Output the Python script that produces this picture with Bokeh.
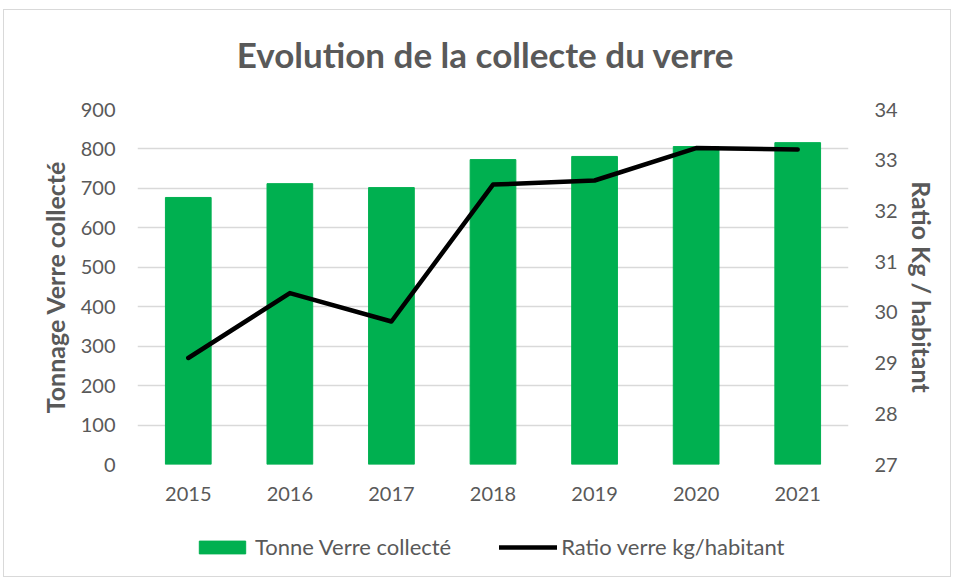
from bokeh.plotting import figure
from bokeh.layouts import column
from bokeh.models import Range1d, LinearAxis, FactorRange, Legend, LegendItem, ColumnDataSource, Label
from bokeh.embed import file_html
from bokeh.resources import INLINE

years = ["2015", "2016", "2017", "2018", "2019", "2020", "2021"]
tonnage = [677, 712, 702, 773, 781, 806, 816]
ratio = [29.1, 30.38, 29.82, 32.52, 32.6, 33.24, 33.21]
left_ticks = [0, 100, 200, 300, 400, 500, 600, 700, 800, 900]
right_ticks = [27, 28, 29, 30, 31, 32, 33, 34]
title_text = "Evolution de la collecte du verre"
series_names = ["Tonne Verre collecté", "Ratio verre kg/habitant"]

FONT = "Lato"
GRAY = "#595959"
GREEN = "#00b050"
W = 946
FW = 711

# ---- title strip (frame aligned with main chart frame) ----
p0 = figure(width=W, height=87, x_range=Range1d(0, FW), y_range=Range1d(0, 87),
            output_backend="svg", toolbar_location=None, min_border=0,
            x_axis_location=None, y_axis_location=None)
p0.grid.visible = False
p0.outline_line_color = None
p0.add_layout(Label(x=348, y=44, text=title_text, text_align="center", text_baseline="middle",
                    text_font=FONT, text_font_size="35px", text_font_style="bold", text_color=GRAY))

# ---- main chart ----
src = ColumnDataSource(dict(year=years, tonnage=tonnage, ratio=ratio))

p = figure(x_range=FactorRange(*years), y_range=Range1d(0, 900),
           frame_width=FW, frame_height=355, output_backend="svg", toolbar_location=None,
           min_border_left=133, min_border_top=12, min_border_right=102, min_border_bottom=44)
p.outline_line_color = None
p.extra_y_ranges = {"ratio": Range1d(27, 34)}

bars = p.vbar(x="year", top="tonnage", width=0.45, source=src, color=GREEN)
line = p.line(x="year", y="ratio", source=src, y_range_name="ratio",
              line_color="black", line_width=4.5, line_join="round", line_cap="round")

right = LinearAxis(y_range_name="ratio", axis_label="Ratio Kg / habitant")
right.ticker = right_ticks
p.add_layout(right, "right")

p.yaxis[0].ticker = left_ticks
p.yaxis[0].axis_label = "Tonnage Verre collecté"

for ax in [p.yaxis[0], right]:
    ax.axis_label_text_font = FONT
    ax.axis_label_text_font_size = "25px"
    ax.axis_label_text_font_style = "bold"
    ax.axis_label_text_color = GRAY

for ax in [p.yaxis[0], right, p.xaxis[0]]:
    ax.axis_line_color = None
    ax.major_tick_line_color = None
    ax.minor_tick_line_color = None
    ax.major_label_text_font = FONT
    ax.major_label_text_font_size = "20px"
    ax.major_label_text_color = GRAY

p.yaxis[0].major_label_standoff = 16
p.yaxis[0].axis_label_standoff = 8
right.major_label_standoff = 20
right.axis_label_standoff = 6
p.xaxis[0].major_label_standoff = 16

p.xgrid.grid_line_color = None
p.ygrid.grid_line_color = "#d9d9d9"
p.ygrid.grid_line_width = 1.5

# ---- legend strip: same series, y view set above the data so only the legend shows ----
p2 = figure(width=W, height=68, x_range=FactorRange(*years), y_range=Range1d(1000, 2000),
            output_backend="svg", toolbar_location=None, min_border=0,
            x_axis_location=None, y_axis_location=None)
p2.grid.visible = False
p2.outline_line_color = None
leg_bar = p2.vbar(x="year", top="tonnage", width=0.45, source=src, color=GREEN)
leg_line = p2.line(x="year", y="ratio", source=src, line_color="black", line_width=4.5,
                   line_cap="round")

legend = Legend(items=[LegendItem(label=series_names[0], renderers=[leg_bar]),
                       LegendItem(label=series_names[1], renderers=[leg_line])],
                orientation="horizontal", location=(56, 16))
legend.label_text_font = FONT
legend.label_text_font_size = "22px"
legend.label_text_color = GRAY
legend.border_line_color = None
legend.background_fill_alpha = 0
legend.glyph_width = 58
legend.glyph_height = 16
legend.label_standoff = 4
legend.spacing = 48
legend.margin = 0
legend.padding = 0
p2.add_layout(legend, "center")

layout = column(p0, p, p2, spacing=0)
layout.styles = {"border": "1px solid #d9d9d9", "margin": "9px 0px 0px 3px"}

open("out.html", "w").write(file_html(layout, INLINE))
